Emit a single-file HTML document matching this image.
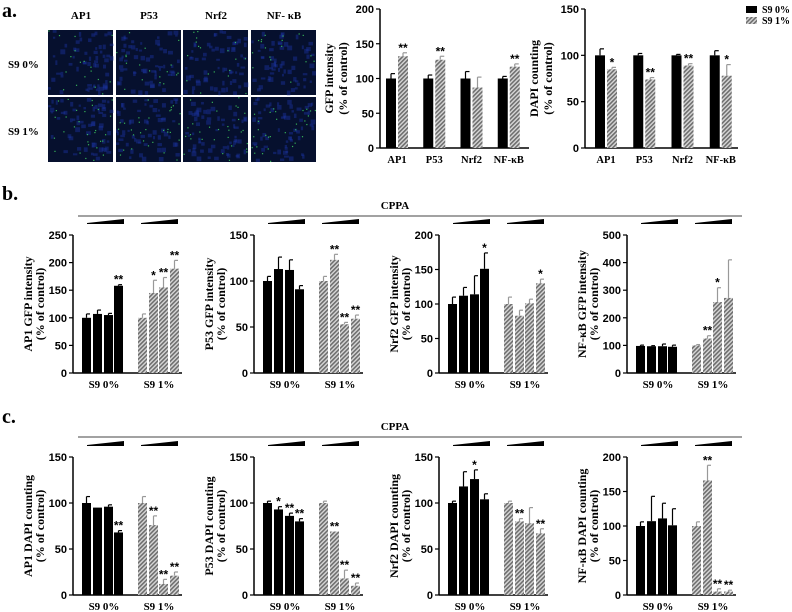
<!DOCTYPE html>
<html><head><meta charset="utf-8"><style>
body{margin:0;background:#fff;width:792px;height:612px;overflow:hidden}
svg{display:block}
.t{font-family:"Liberation Serif",serif;font-weight:bold}
.s{font-family:"Liberation Sans",sans-serif;font-weight:bold}
</style></head><body>
<svg id="fig" width="792" height="612" viewBox="0 0 792 612" xmlns="http://www.w3.org/2000/svg">
<defs>
<pattern id="hatch" patternUnits="userSpaceOnUse" width="3" height="3" patternTransform="rotate(45)">
<rect width="3" height="3" fill="#d8d8d8"/><rect width="1.6" height="3" fill="#6e6e6e"/>
</pattern>
</defs>
<text class="t" x="2" y="17" font-size="20">a.</text>
<text class="t" x="2" y="200" font-size="20">b.</text>
<text class="t" x="2" y="423" font-size="20">c.</text>
<g id="imgs"></g>
<g>
<rect x="746" y="6" width="11" height="7" fill="#000"/>
<text class="t" x="762" y="13" font-size="10">S9 0%</text>
<rect x="746" y="17" width="11" height="7" fill="url(#hatch)"/>
<text class="t" x="762" y="24" font-size="10">S9 1%</text>
</g>
<g id="charts"></g>
</svg>
<script>
// ---- data ----
const aCats = ['AP1','P53','Nrf2','NF-κB'];
const aGfpS0 = [100,100,100,100], aGfpS0Err = [7,5,10,3];
const aGfpS1 = [132,127,87,117], aGfpS1Err = [5,5,15,4];
const aGfpStars = ['**','**','','**'];
const aDapiS0 = [100,100,100,100], aDapiS0Err = [7,2,1,5];
const aDapiS1 = [85,74,89,78], aDapiS1Err = [2,2,2,12];
const aDapiStars = ['*','**','**','*'];
const groupLabels = ['S9 0%','S9 1%'];
const bTitles = ['AP1 GFP intensity','P53 GFP intensity','Nrf2 GFP intensity','NF-κB GFP intensity'];
const bMax = [250,150,200,500];
const bS0 = [[100,107,105,158],[100,113,112,91],[100,112,114,151],[98,97,97,95]];
const bS0Err = [[7,7,3,2],[5,13,11,4],[10,12,27,23],[3,2,8,6]];
const bS1 = [[100,145,155,189],[100,123,53,59],[100,83,101,130],[100,125,257,272]];
const bS1Err = [[7,23,18,15],[5,6,2,4],[10,8,6,6],[3,10,52,138]];
const bS0Stars = [['','','','**'],['','','',''],['','','','*'],['','','','']];
const bS1Stars = [['','*','**','**'],['','**','**','**'],['','','','*'],['','**','*','']];
const cTitles = ['AP1 DAPI counting','P53 DAPI counting','Nrf2 DAPI counting','NF-κB DAPI counting'];
const cMax = [150,150,150,200];
const cS0 = [[100,95,96,68],[100,93,86,80],[100,118,126,104],[100,107,111,101]];
const cS0Err = [[7,0,2,2],[2,3,3,3],[2,16,10,6],[6,36,22,24]];
const cS1 = [[100,76,12,21],[100,69,18,10],[100,80,78,67],[100,166,5,5]];
const cS1Err = [[7,10,5,4],[2,0,9,3],[2,3,17,5],[6,22,4,2]];
const cS0Stars = [['','','','**'],['','*','**','**'],['','','*',''],['','','','']];
const cS1Stars = [['','**','**','**'],['','**','**','**'],['','**','','**'],['','**','**','**']];

const NS='http://www.w3.org/2000/svg';
function mk(tag,attrs,parent,text){const e=document.createElementNS(NS,tag);for(const k in attrs)e.setAttribute(k,attrs[k]);if(text!==undefined)e.textContent=text;parent.appendChild(e);return e;}
const charts=document.getElementById('charts');

function yScale(v,max,top,bot){return bot-(v/max)*(bot-top);}
function steps(max){return max===500?100:50;}

function axes(g,x0,x1,top,bot,max,t1,t2,tOff){
  const step=steps(max);
  let e=mk('line',{x1:x0,y1:top,x2:x0,y2:bot,stroke:'#000','stroke-width':1.5},g);
  
  e=mk('line',{x1:x0,y1:bot,x2:x1,y2:bot,stroke:'#000','stroke-width':1.5},g);
  
  for(let v=0;v<=max;v+=step){const y=yScale(v,max,top,bot);
    mk('line',{x1:x0-4,y1:y,x2:x0,y2:y,stroke:'#000','stroke-width':1.2},g);
    e=mk('text',{x:x0-6,y:y+4,'text-anchor':'end','font-size':11,class:'s'},g,String(v));
    }
  const cy=(top+bot)/2;
  e=mk('text',{x:0,y:0,'text-anchor':'middle','font-size':12,class:'t',transform:`translate(${x0-tOff[0]},${cy}) rotate(-90)`},g,t1);
  
  e=mk('text',{x:0,y:0,'text-anchor':'middle','font-size':12,class:'t',transform:`translate(${x0-tOff[1]},${cy}) rotate(-90)`},g,t2);
  
}
function bar(g,x,w,v,err,max,top,bot,hatched,star){
  const y=yScale(v,max,top,bot), ye=yScale(v+err,max,top,bot);
  const col=hatched?'#999':'#000';
  if(err>0){mk('line',{x1:x+w/2,y1:ye,x2:x+w/2,y2:y,stroke:col,'stroke-width':1.2},g);
    mk('line',{x1:x+w/2,y1:ye,x2:x+w-1,y2:ye,stroke:col,'stroke-width':1.2},g);}
  const r=mk('rect',{x:x,y:y,width:w,height:bot-y,fill:hatched?'url(#hatch)':'#000'},g);
  
  
  if(star){const s=mk('text',{x:x+w/2,y:ye-1,'text-anchor':'middle','font-size':12,class:'s'},g,star);
    }
}

// ---- panel a charts ----
function aChart(x0,x1,max,s0,e0,s1,e1,stars,t1,name,offs){
  const g=mk('g',{},charts);
  const top=9,bot=148;
  axes(g,x0,x1,top,bot,max,t1,'(% of control)',[47,33]);
  const n=aCats.length, gw=(x1-x0)/n;
  for(let i=0;i<n;i++){const bx=x0+5+i*gw+offs;
    bar(g,bx,10,s0[i],e0[i],max,top,bot,false,'');
    bar(g,bx+12,10,s1[i],e1[i],max,top,bot,true,stars[i]);
    const t=mk('text',{x:bx+11,y:163,'text-anchor':'middle','font-size':10.5,class:'t'},g,aCats[i]);
    }
}
aChart(380,529,200,aGfpS0,aGfpS0Err,aGfpS1,aGfpS1Err,aGfpStars,'GFP intensity','gfp-intensity-chart',1);
aChart(585,738,150,aDapiS0,aDapiS0Err,aDapiS1,aDapiS1Err,aDapiStars,'DAPI counting','dapi-counting-chart',5);

// ---- rows b and c ----
const axX=[73,254,439,627];
function rowChart(x0,top,bot,max,s0,e0,s1,e1,st0,st1,title,name){
  const g=mk('g',{},charts);
  axes(g,x0,x0+109,top,bot,max,title,'(% of control)',[41,29]);
  const bxs=[9,20,31,41], bx2=[65,76,86,97];
  for(let i=0;i<4;i++){bar(g,x0+bxs[i],9,s0[i],e0[i],max,top,bot,false,st0[i]);
    bar(g,x0+bx2[i],9,s1[i],e1[i],max,top,bot,true,st1[i]);}
  let t=mk('text',{x:x0+31,y:bot+15,'text-anchor':'middle','font-size':11,class:'t'},g,groupLabels[0]);
  
  t=mk('text',{x:x0+86,y:bot+15,'text-anchor':'middle','font-size':11,class:'t'},g,groupLabels[1]);
  
  for(const w of [[14,51],[68,105]]){
    const p=mk('polygon',{points:`${x0+w[0]},${top-12} ${x0+w[1]},${top-16} ${x0+w[1]},${top-11} ${x0+w[0]},${top-11}`,fill:'#000'},g);
    }
}
function row(top,bot,lineY,titles,maxes,s0,e0,s1,e1,st0,st1,pre){
  let l=mk('line',{x1:78,y1:lineY,x2:742,y2:lineY,stroke:'#444','stroke-width':1},charts);
  
  l=mk('text',{x:395,y:lineY-7,'text-anchor':'middle','font-size':11,class:'t'},charts,'CPPA');
  
  for(let k=0;k<4;k++) rowChart(axX[k],top,bot,maxes[k],s0[k],e0[k],s1[k],e1[k],st0[k],st1[k],titles[k],pre+'-chart-'+(k+1));
}
row(235,373,216,bTitles,bMax,bS0,bS0Err,bS1,bS1Err,bS0Stars,bS1Stars,'gfp-row');
row(457,595,437,cTitles,cMax,cS0,cS0Err,cS1,cS1Err,cS0Stars,cS1Stars,'dapi-row');

// ---- microscopy images (decorative) ----
const ig=document.getElementById('imgs');
const cols=[48,116,183,251], rows=[30,97], names=['AP1','P53','Nrf2','NF- κB'];
let seed=7;function rnd(){seed=(seed*16807)%2147483647;return seed/2147483647;}
for(let c=0;c<4;c++){
  let t=mk('text',{x:cols[c]+33,y:19,'text-anchor':'middle','font-size':11,class:'t'},ig,names[c]);
  
  for(let r=0;r<2;r++){
    const im=mk('rect',{x:cols[c],y:rows[r],width:65,height:65,fill:'#06102e'},ig);
    
    for(let k=0;k<60;k++)mk('rect',{x:cols[c]+rnd()*62,y:rows[r]+rnd()*62,width:2+rnd()*3,height:2+rnd()*3,fill:'#1a34a0',opacity:0.45},ig);
    const ng=(r===1?30:18);
    for(let k=0;k<ng;k++)mk('rect',{x:cols[c]+rnd()*64,y:rows[r]+rnd()*64,width:1.2,height:1.2,fill:'#3fd060',opacity:0.85},ig);
  }
}
let tl=mk('text',{x:8,y:68,'font-size':11,class:'t'},ig,'S9 0%');

tl=mk('text',{x:8,y:135,'font-size':11,class:'t'},ig,'S9 1%');

</script>
</body></html>
